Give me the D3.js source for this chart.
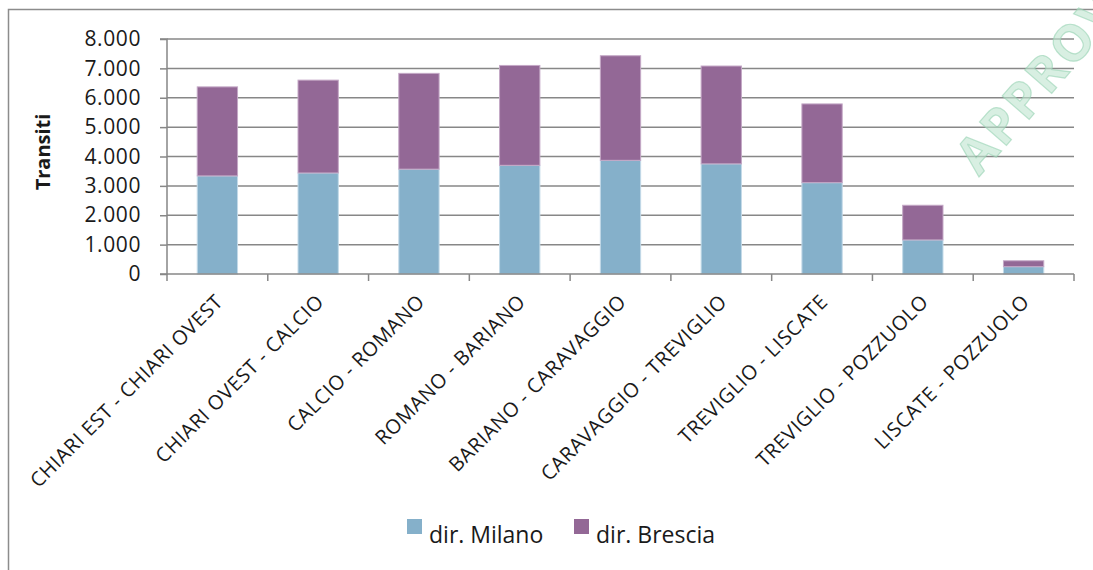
<!DOCTYPE html>
<html>
<head>
<meta charset="utf-8">
<script src="https://cdn.jsdelivr.net/npm/d3@7"></script>
<style>
  html, body { margin: 0; padding: 0; background: #fff; }
  svg { display: block; }
  text { font-family: "Open Sans", Lato, sans-serif; fill: #1a1a1a; }
</style>
</head>
<body>
<svg id="chart" width="1093" height="570"></svg>
<script>
const categories = [
  "CHIARI EST - CHIARI OVEST",
  "CHIARI OVEST - CALCIO",
  "CALCIO - ROMANO",
  "ROMANO  - BARIANO",
  "BARIANO - CARAVAGGIO",
  "CARAVAGGIO - TREVIGLIO",
  "TREVIGLIO - LISCATE",
  "TREVIGLIO - POZZUOLO",
  "LISCATE - POZZUOLO"
];
const dirMilano  = [3340, 3440, 3570, 3700, 3870, 3750, 3110, 1160, 250];
const dirBrescia = [3030, 3160, 3260, 3400, 3560, 3330, 2680, 1180, 200];
const seriesNames = ["dir. Milano", "dir. Brescia"];
const yTicks = [0, 1000, 2000, 3000, 4000, 5000, 6000, 7000, 8000];
const yTitle = "Transiti";
const watermark = "APPROVATO";

const colors = { "dir. Milano": "#85b0ca", "dir. Brescia": "#936896" };
const strokes = { "dir. Milano": "#c3dae8", "dir. Brescia": "#c4a8c6" };

const svg = d3.select("#chart");
const W = 1093, H = 570;
const m = { left: 167, right: 1074, top: 39, bottom: 274 };

// outer border
svg.append("rect").attr("x", 8.5).attr("y", 9.5).attr("width", W + 10).attr("height", H + 10)
  .attr("fill", "none").attr("stroke", "#8c8c8c").attr("stroke-width", 1.5);

const x = d3.scaleBand().domain(categories).range([m.left, m.right]).paddingInner(0.6).paddingOuter(0.3);
const y = d3.scaleLinear().domain([0, 8000]).range([m.bottom, m.top]);

const fmt = v => v === 0 ? "0" : d3.format(",")(v).replace(/,/g, ".");

// gridlines
svg.append("g").selectAll("line").data(yTicks.filter(d => d > 0)).join("line")
  .attr("x1", m.left).attr("x2", m.right)
  .attr("y1", d => y(d)).attr("y2", d => y(d))
  .attr("stroke", "#878787").attr("stroke-width", 1.5);

// watermark (semi-transparent, over gridlines)
svg.append("text")
  .attr("transform", "translate(979,177) rotate(-49)")
  .attr("font-size", 50).attr("font-weight", "bold")
  .attr("letter-spacing", 3)
  .style("fill", "rgba(190,228,206,0.6)")
  .style("stroke", "rgba(150,210,178,0.6)")
  .style("stroke-width", 1.2)
  .text(watermark);

// stacked bars
const rows = categories.map((c, i) => ({ cat: c, "dir. Milano": dirMilano[i], "dir. Brescia": dirBrescia[i] }));
const stack = d3.stack().keys(seriesNames)(rows);
svg.append("g").selectAll("g").data(stack).join("g")
  .attr("fill", d => colors[d.key])
  .attr("stroke", d => strokes[d.key])
  .attr("stroke-width", 1)
  .selectAll("rect").data(d => d).join("rect")
  .attr("x", d => x(d.data.cat))
  .attr("width", x.bandwidth())
  .attr("y", d => y(d[1]))
  .attr("height", d => y(d[0]) - y(d[1]));

// y axis
const yAxis = d3.axisLeft(y).tickValues(yTicks).tickFormat(fmt).tickSize(7).tickPadding(19);
const gy = svg.append("g").attr("transform", `translate(${m.left},0)`).call(yAxis);
gy.select(".domain").attr("stroke", "#878787").attr("stroke-width", 1.5).attr("d", `M-7,${m.top}H0V${m.bottom}H-7`);
gy.selectAll(".tick line").attr("stroke", "#878787").attr("stroke-width", 1.5);
gy.selectAll(".tick text").attr("font-size", 21).attr("letter-spacing", 0.6)
  .attr("font-family", "Open Sans").attr("fill", "#1a1a1a");

// x axis
const bandEdges = d3.range(categories.length + 1).map(i => m.left + i * (m.right - m.left) / categories.length);
const gx = svg.append("g");
gx.append("line").attr("x1", m.left).attr("x2", m.right).attr("y1", m.bottom).attr("y2", m.bottom)
  .attr("stroke", "#878787").attr("stroke-width", 1.5);
gx.selectAll("line.tk").data(bandEdges).join("line").attr("class", "tk")
  .attr("x1", d => d).attr("x2", d => d).attr("y1", m.bottom).attr("y2", m.bottom + 7)
  .attr("stroke", "#878787").attr("stroke-width", 1.5);
gx.selectAll("text").data(categories).join("text")
  .attr("transform", d => `translate(${x(d) + x.bandwidth() / 2 + 2},${m.bottom + 24}) rotate(-45)`)
  .attr("text-anchor", "end")
  .attr("dy", "0.35em")
  .attr("font-size", 20)
  .attr("letter-spacing", 0.6)
  .text(d => d);

// y title
svg.append("text")
  .attr("transform", `translate(50,152) rotate(-90)`)
  .attr("text-anchor", "middle")
  .attr("font-size", 20).attr("font-weight", "bold")
  .text(yTitle);

// legend
const legendItems = [{ name: seriesNames[0], x: 407 }, { name: seriesNames[1], x: 574 }];
const lg = svg.append("g");
legendItems.forEach(it => {
  lg.append("rect").attr("x", it.x).attr("y", 519).attr("width", 15).attr("height", 15).attr("fill", colors[it.name]);
  lg.append("text").attr("x", it.x + 22).attr("y", 543).attr("font-size", 23).text(it.name);
});
</script>
</body>
</html>
